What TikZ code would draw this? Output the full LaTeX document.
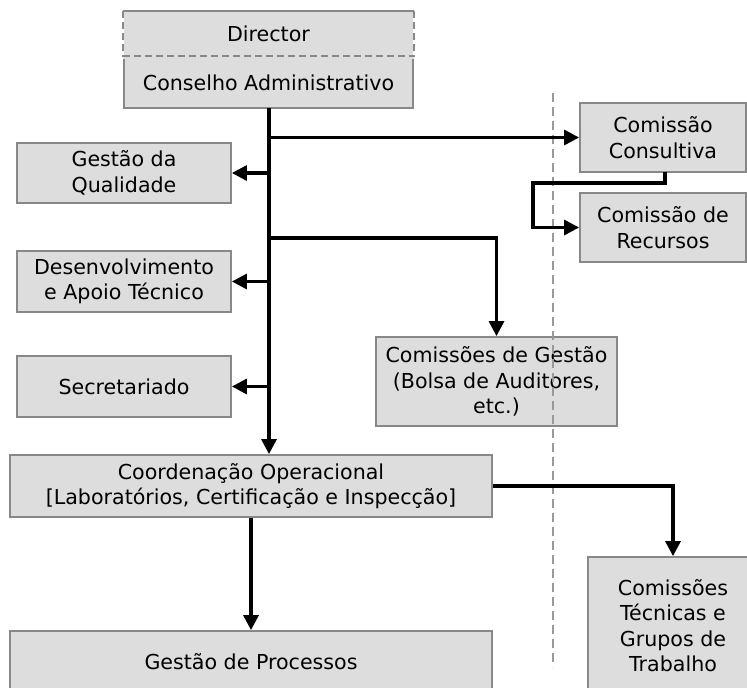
\documentclass[tikz,border=0pt]{standalone}
\usepackage{fontspec}
\setmainfont{DejaVu Sans}
\usetikzlibrary{arrows.meta}
\definecolor{boxfill}{HTML}{DDDDDD}
\definecolor{boxline}{HTML}{888888}
\definecolor{sepline}{HTML}{999999}
\tikzset{
  orgbox/.style={fill=boxfill, draw=boxline, line width=1.8pt, inner sep=0pt, align=center,
    font=\fontsize{20.6}{25.5}\selectfont},
  link/.style={line width=3.1pt, -{Triangle[length=15pt,width=15pt]}},
  divider/.style={draw=sepline, line width=2.2pt, dash pattern=on 9pt off 5pt},
}
\begin{document}
\begin{tikzpicture}[x=1pt,y=-1pt]
\clip (0,0) rectangle (747,688);
\fill[white] (0,0) rectangle (747,688);
% Director / Conselho
\node[orgbox, draw=none, minimum width=289pt, minimum height=44pt] (dirtop) at (268.5,34) {Director};
\node[orgbox, minimum width=289pt, minimum height=51pt] (dirbot) at (268.5,82.5) {Conselho Administrativo};
\draw[boxline, line width=1.8pt] (dirtop.north west) -- (dirtop.north east);
\draw[boxline, line width=1.8pt, dash pattern=on 7pt off 4pt] (dirtop.north west) -- (dirtop.south west);
\draw[boxline, line width=1.8pt, dash pattern=on 7pt off 4pt] (dirtop.north east) -- (dirtop.south east);
\draw[fill=boxfill, draw=none] (dirbot.north west) rectangle ([yshift=-3pt]dirbot.north east);
\draw[boxline, line width=1.8pt, dash pattern=on 7pt off 4pt] (dirbot.north west) -- (dirbot.north east);
% left column
\node[orgbox, minimum width=214pt, minimum height=60pt] (gq) at (124,173) {Gestão da\\Qualidade};
\node[orgbox, minimum width=214pt, minimum height=61pt] (dev) at (124,281.5) {Desenvolvimento\\e Apoio Técnico};
\node[orgbox, minimum width=214pt, minimum height=61pt] (sec) at (124,386.5) {Secretariado};
% right
\node[orgbox, minimum width=166pt, minimum height=69pt] (con) at (663,137.5) {Comissão\\Consultiva};
\node[orgbox, minimum width=166pt, minimum height=69pt] (rec) at (663,227.5) {Comissão de\\Recursos};
\node[orgbox, minimum width=241pt, minimum height=89pt] (cg) at (496.5,381.5) {Comissões de Gestão\\(Bolsa de Auditores,\\etc.)};
\node[orgbox, minimum width=482pt, minimum height=62pt] (coord) at (251,486) {Coordenação Operacional\\{[}Laboratórios, Certificação e Inspecção{]}};
\node[orgbox, minimum width=482pt, minimum height=62pt] (gp) at (251,662) {Gestão de Processos};
\node[orgbox, minimum width=170pt, minimum height=137pt] (ct) at (673,625.5) {Comissões\\Técnicas e\\Grupos de\\Trabalho};
% divider
\coordinate (dvtop) at (553,93);
\coordinate (dvbot) at (553,667);
\draw[divider] (dvtop) -- (dvbot);
% trunk
\coordinate (trunktop) at (269,108);
\draw[link] (trunktop) -- (coord.north -| trunktop);
\coordinate (b1) at (269,137.5);
\coordinate (b2) at (269,173);
\coordinate (b3) at (269,238);
\coordinate (b4) at (269,281.5);
\coordinate (b5) at (269,386.5);
\draw[link] (b1) -- (con.west);
\draw[link] (b2) -- (gq.east);
\draw[link] (b3) -| (cg.north);
\draw[link] (b4) -- (dev.east);
\draw[link] (b5) -- (sec.east);
% Consultiva -> Recursos
\coordinate (cs) at (665,172);
\coordinate (k1) at (665,183);
\coordinate (k2) at (533,183);
\draw[link] (cs) -- (k1) -- (k2) |- (rec.west);
% coord -> gp and ct
\draw[link] (coord.south) -- (gp.north);
\draw[link] (coord.east) -| (ct.north);
\end{tikzpicture}
\end{document}
